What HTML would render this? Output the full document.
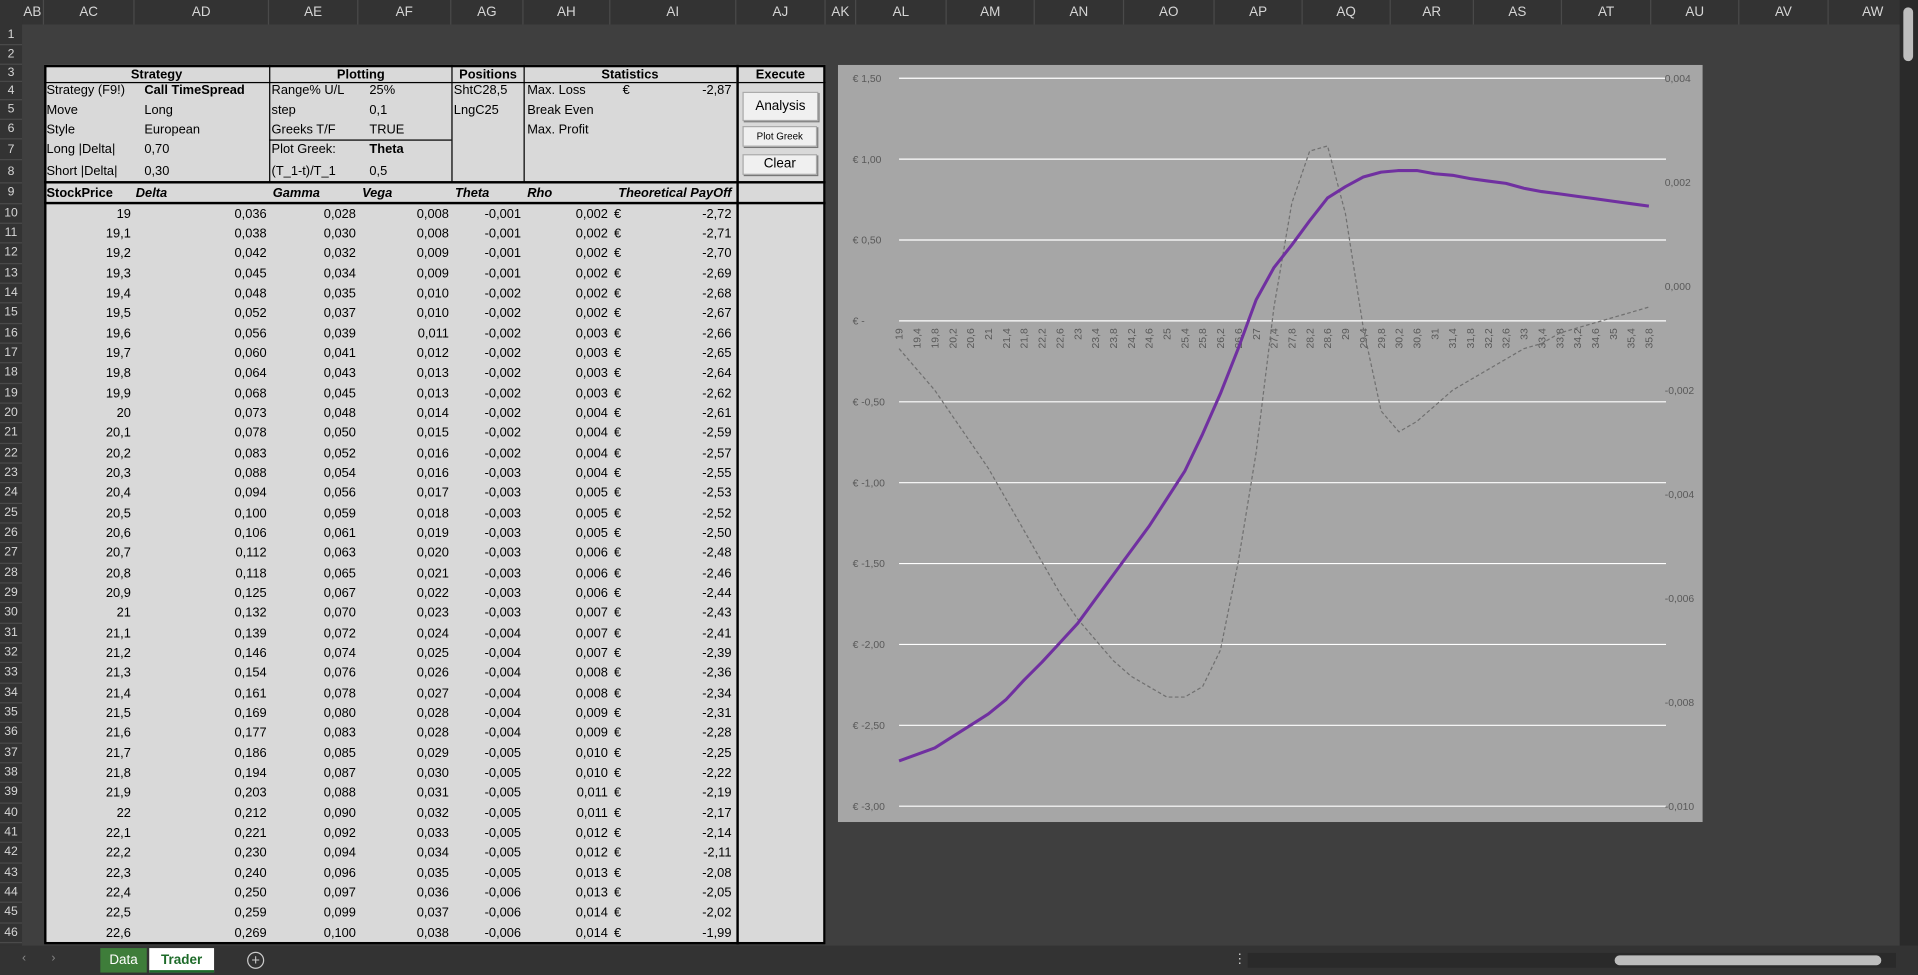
<!DOCTYPE html>
<html><head><meta charset="utf-8">
<style>
html,body{margin:0;padding:0;background:#3c3c3c;overflow:hidden;width:1918px;height:975px}
#root{position:absolute;left:0;top:0;width:1568px;height:797px;transform:scale(1.22321,1.22334);transform-origin:0 0;font-family:"Liberation Sans",sans-serif;background:#3f3f3f}
.abs{position:absolute}
.colhdr{position:absolute;top:0;height:20px;line-height:20px;text-align:center;color:#d6d6d6;font-size:11px;border-right:1px solid #4a4a4a;box-sizing:border-box}
.rowhdr{position:absolute;left:0;width:18px;text-align:center;color:#d6d6d6;font-size:10px;border-bottom:1px solid #4a4a4a;box-sizing:border-box}
.t{position:absolute;font-size:10.5px;color:#000;white-space:nowrap}
.b{font-weight:bold}
.bi{font-weight:bold;font-style:italic}
.btn{position:absolute;background:#f0f0f0;border:1px solid #aaa;box-shadow:1px 1px 0 #777;text-align:center;color:#000;font-size:11px;box-sizing:border-box}
</style></head><body>
<div id="root">
  <div class="abs" style="left:0;top:0;width:1568px;height:20px;background:#333"></div>
  <div class="abs" style="left:0;top:0;width:18px;height:797px;background:#333"></div>
  <div id="cols"></div><div id="rows"></div>

  <div class="abs" style="left:36px;top:53px;width:639px;height:719px;background:#d9d9d9;border:2px solid #000;box-sizing:border-box"></div>
  <div id="table"></div>

  <div class="btn" style="left:607px;top:75px;width:62px;height:24px;line-height:22px">Analysis</div>
  <div class="btn" style="left:607px;top:103px;width:61px;height:17px;line-height:15px;font-size:8px">Plot Greek</div>
  <div class="btn" style="left:607px;top:126px;width:61px;height:17px;line-height:15px">Clear</div>

  <svg id="chart" class="abs" style="left:685px;top:53px" width="707" height="619"></svg>

  <div class="abs" style="left:0;top:773px;width:1568px;height:24px;background:#333">
    <div class="abs" style="left:18px;top:5px;color:#888;font-size:10px">‹</div>
    <div class="abs" style="left:42px;top:5px;color:#888;font-size:10px">›</div>
    <div class="abs" style="left:82px;top:2px;width:38px;height:20px;background:#3e7d3a;color:#fff;font-size:11px;text-align:center;line-height:20px">Data</div>
    <div class="abs" style="left:122px;top:2px;width:53px;height:20px;background:#fff;color:#1e6b2a;font-weight:bold;font-size:11px;text-align:center;line-height:20px;border-bottom:2px solid #1e6b2a;box-sizing:border-box">Trader</div>
    <div class="abs" style="left:202px;top:5px;width:12px;height:12px;border:1px solid #ccc;border-radius:50%;color:#ccc;font-size:12px;line-height:12px;text-align:center">+</div>
    <div class="abs" style="left:1008px;top:4px;color:#ccc;font-size:11px">⋮</div>
    <div class="abs" style="left:1020px;top:6px;width:530px;height:12px;background:#2a2a2a">
      <div class="abs" style="left:300px;top:2px;width:218px;height:8px;background:#bdbdbd;border-radius:4px"></div>
    </div>
  </div>
  <div class="abs" style="left:1553px;top:0;width:15px;height:773px;background:#2a2a2a">
    <div class="abs" style="left:3px;top:6px;width:8px;height:44px;background:#bdbdbd;border-radius:4px"></div>
  </div>
</div>
<script>
const colNames=["AB","AC","AD","AE","AF","AG","AH","AI","AJ","AK","AL","AM","AN","AO","AP","AQ","AR","AS","AT","AU","AV","AW"];
const colEdges=[18,36,110,220,293,369,428,499,602,675,700,774,846,919,993,1065,1137,1205,1277,1350,1422,1495,1568];
const prices=["19","19,1","19,2","19,3","19,4","19,5","19,6","19,7","19,8","19,9","20","20,1","20,2","20,3","20,4","20,5","20,6","20,7","20,8","20,9","21","21,1","21,2","21,3","21,4","21,5","21,6","21,7","21,8","21,9","22","22,1","22,2","22,3","22,4","22,5","22,6"];
const deltas=["0,036","0,038","0,042","0,045","0,048","0,052","0,056","0,060","0,064","0,068","0,073","0,078","0,083","0,088","0,094","0,100","0,106","0,112","0,118","0,125","0,132","0,139","0,146","0,154","0,161","0,169","0,177","0,186","0,194","0,203","0,212","0,221","0,230","0,240","0,250","0,259","0,269"];
const gammas=["0,028","0,030","0,032","0,034","0,035","0,037","0,039","0,041","0,043","0,045","0,048","0,050","0,052","0,054","0,056","0,059","0,061","0,063","0,065","0,067","0,070","0,072","0,074","0,076","0,078","0,080","0,083","0,085","0,087","0,088","0,090","0,092","0,094","0,096","0,097","0,099","0,100"];
const vegas=["0,008","0,008","0,009","0,009","0,010","0,010","0,011","0,012","0,013","0,013","0,014","0,015","0,016","0,016","0,017","0,018","0,019","0,020","0,021","0,022","0,023","0,024","0,025","0,026","0,027","0,028","0,028","0,029","0,030","0,031","0,032","0,033","0,034","0,035","0,036","0,037","0,038"];
const thetas=["-0,001","-0,001","-0,001","-0,001","-0,002","-0,002","-0,002","-0,002","-0,002","-0,002","-0,002","-0,002","-0,002","-0,003","-0,003","-0,003","-0,003","-0,003","-0,003","-0,003","-0,003","-0,004","-0,004","-0,004","-0,004","-0,004","-0,004","-0,005","-0,005","-0,005","-0,005","-0,005","-0,005","-0,005","-0,006","-0,006","-0,006"];
const rhos=["0,002","0,002","0,002","0,002","0,002","0,002","0,003","0,003","0,003","0,003","0,004","0,004","0,004","0,004","0,005","0,005","0,005","0,006","0,006","0,006","0,007","0,007","0,007","0,008","0,008","0,009","0,009","0,010","0,010","0,011","0,011","0,012","0,012","0,013","0,013","0,014","0,014"];
const payoffs=["-2,72","-2,71","-2,70","-2,69","-2,68","-2,67","-2,66","-2,65","-2,64","-2,62","-2,61","-2,59","-2,57","-2,55","-2,53","-2,52","-2,50","-2,48","-2,46","-2,44","-2,43","-2,41","-2,39","-2,36","-2,34","-2,31","-2,28","-2,25","-2,22","-2,19","-2,17","-2,14","-2,11","-2,08","-2,05","-2,02","-1,99"];

// chart data
const chartCategories=["19","19,4","19,8","20,2","20,6","21","21,4","21,8","22,2","22,6","23","23,4","23,8","24,2","24,6","25","25,4","25,8","26,2","26,6","27","27,4","27,8","28,2","28,6","29","29,4","29,8","30,2","30,6","31","31,4","31,8","32,2","32,6","33","33,4","33,8","34,2","34,6","35","35,4","35,8"];
const payoffSeries=[-2.72,-2.68,-2.64,-2.57,-2.50,-2.43,-2.34,-2.22,-2.11,-1.99,-1.87,-1.72,-1.57,-1.42,-1.27,-1.10,-0.93,-0.70,-0.45,-0.17,0.13,0.33,0.47,0.62,0.76,0.83,0.89,0.92,0.93,0.93,0.91,0.90,0.88,0.865,0.85,0.82,0.80,0.785,0.77,0.755,0.74,0.725,0.71];
const thetaSeries=[-0.0012,-0.0016,-0.0020,-0.0025,-0.0030,-0.0035,-0.0041,-0.0047,-0.0053,-0.0059,-0.0064,-0.0068,-0.0072,-0.0075,-0.0077,-0.0079,-0.0079,-0.0077,-0.0070,-0.0053,-0.0032,-0.0004,0.0016,0.0026,0.0027,0.0014,-0.0008,-0.0024,-0.0028,-0.0026,-0.0023,-0.0020,-0.0018,-0.0016,-0.0014,-0.0012,-0.0011,-0.0009,-0.0008,-0.0007,-0.0006,-0.0005,-0.0004];
const leftTicks=[1.5,1.0,0.5,0,-0.5,-1.0,-1.5,-2.0,-2.5,-3.0];
const leftTickLabels=["€ 1,50","€ 1,00","€ 0,50","€ -","€ -0,50","€ -1,00","€ -1,50","€ -2,00","€ -2,50","€ -3,00"];
const rightTicks=[0.004,0.002,0,-0.002,-0.004,-0.006,-0.008,-0.010];
const rightTickLabels=["0,004","0,002","0,000","-0,002","-0,004","-0,006","-0,008","-0,010"];

function mk(tag,parent,css,text){const e=document.createElement(tag);if(css)e.style.cssText=css;if(text!==undefined)e.textContent=text;parent.appendChild(e);return e;}

const colsEl=document.getElementById('cols');
colNames.forEach((n,i)=>{
  const e=mk('div',colsEl,`left:${colEdges[i]}px;width:${colEdges[i+1]-colEdges[i]}px`,n);
  e.className='colhdr';
  
  
});
const rowTopArr=[0,21,37,53,67,82,98,114,131,150];
function rowY(n){return n<=9?rowTopArr[n]:166.7+(n-10)*16.33;}
function rowH(n){return (n<=8?rowY(n+1):rowY(n)+16.33)-rowY(n);}
const rowsEl=document.getElementById('rows');
for(let n=1;n<=46;n++){
  const h=n===9?16.7:rowH(n);
  const e=mk('div',rowsEl,`top:${rowY(n)}px;height:${h}px;line-height:${h}px`,String(n));
  e.className='rowhdr';
  
  
}
const tb=document.getElementById('table');
function txt(s,x,row,cls,align,name){
  const h=row===9?16.7:rowH(row);
  const yoff=row===3?1:0;
  const css=align==='r'?`right:${1568-x}px;`:align==='c'?`left:${x-100}px;width:200px;text-align:center;`:`left:${x}px;`;
  const e=mk('div',tb,css+`top:${rowY(row)+yoff}px;height:${h}px;line-height:${h}px`,s);
  e.className='t '+(cls||'');
  
  
  return e;
}
function line(x,y,w,h,name){const e=mk('div',tb,`position:absolute;left:${x}px;top:${y}px;width:${w}px;height:${h}px;background:#000`);
  
  }
line(36,67,566,1,'header-divider');line(602,67,73,1,'execute-header-divider');
line(220,53,1,97,'strategy-plotting-divider');line(369,53,1,97,'plotting-positions-divider');
line(428,53,1,97,'positions-statistics-divider');line(602,53,2,719,'execute-divider');
line(220,114,149,1,'plotting-subdivider');
line(36,148,639,2,'greeks-top-border');line(36,165,639,2,'greeks-header-border');
txt('Strategy',128,3,'b','c','strategy-header');txt('Plotting',295,3,'b','c','plotting-header');
txt('Positions',399,3,'b','c','positions-header');txt('Statistics',515,3,'b','c','statistics-header');
txt('Execute',638,3,'b','c','execute-header');
const params=[['Strategy (F9!)','Call TimeSpread',true],['Move','Long'],['Style','European'],['Long |Delta|','0,70'],['Short |Delta|','0,30']];
params.forEach((p,i)=>{txt(p[0],38,4+i,'','l','param-label');txt(p[1],118,4+i,p[2]?'b':'','l','param-value');});
const plots=[['Range% U/L','25%'],['step','0,1'],['Greeks T/F','TRUE'],['Plot Greek:','Theta',true],['(T_1-t)/T_1','0,5']];
plots.forEach((p,i)=>{txt(p[0],222,4+i,'','l','plot-label');txt(p[1],302,4+i,p[2]?'b':'','l','plot-value');});
txt('ShtC28,5',371,4,'','l','position-short');txt('LngC25',371,5,'','l','position-long');
txt('Max. Loss',431,4,'','l','max-loss-label');txt('€',509,4,'','l','max-loss-currency');txt('-2,87',598,4,'','r','max-loss-value');
txt('Break Even',431,5,'','l','break-even-label');txt('Max. Profit',431,6,'','l','max-profit-label');
txt('StockPrice',38,9,'b','l','stockprice-header');txt('Delta',111,9,'bi','l','delta-header');
txt('Gamma',223,9,'bi','l','gamma-header');txt('Vega',296,9,'bi','l','vega-header');
txt('Theta',372,9,'bi','l','theta-header');txt('Rho',431,9,'bi','l','rho-header');
txt('Theoretical PayOff',598,9,'bi','r','payoff-header');
prices.forEach((p,i)=>{const r=10+i;
  txt(p,107,r,'','r','stock-price-cell');txt(deltas[i],218,r,'','r','delta-cell');
  txt(gammas[i],291,r,'','r','gamma-cell');txt(vegas[i],367,r,'','r','vega-cell');
  txt(thetas[i],426,r,'','r','theta-cell');txt(rhos[i],497,r,'','r','rho-cell');
  txt('€',502,r,'','l','payoff-currency');txt(payoffs[i],598,r,'','r','payoff-cell');
});

const svg=document.getElementById('chart');const NS='http://www.w3.org/2000/svg';
function s(tag,attrs,text){const e=document.createElementNS(NS,tag);for(const k in attrs)e.setAttribute(k,attrs[k]);if(text!==undefined)e.textContent=text;svg.appendChild(e);return e;}
const bg=s('rect',{x:0,y:0,width:707,height:619,fill:'#a6a6a6'});


const X0=50,X1=663,YT=11,YB=606;
const yL=v=>YT+(1.5-v)/4.5*(YB-YT);
const yR=v=>YT+(0.004-v)/0.014*(YB-YT);
const xC=i=>X0+i*(X1-X0)/(chartCategories.length-1);
leftTicks.forEach((v,i)=>{
  const g=s('line',{x1:X0,x2:X1+14,y1:yL(v),y2:yL(v),stroke:'#fff','stroke-width':1});
  
  
  const t=s('text',{x:12,y:yL(v)+3,'font-size':8.5,fill:'#595959','font-family':'Liberation Sans'},leftTickLabels[i]);
  
  
});
rightTicks.forEach((v,i)=>{
  const t=s('text',{x:676,y:yR(v)+3,'font-size':8.5,fill:'#595959','font-family':'Liberation Sans'},rightTickLabels[i]);
  
  
});
chartCategories.forEach((c,i)=>{
  const x=xC(i),y=yL(0)+6;
  const t=s('text',{x:x+3,y:y,'font-size':8.5,fill:'#595959','font-family':'Liberation Sans','text-anchor':'end',transform:`rotate(-90 ${x+3} ${y})`},c);
  
  
});
const thetaPath=s('path',{d:thetaSeries.map((v,i)=>(i?'L':'M')+xC(i).toFixed(1)+','+yR(v).toFixed(1)).join(''),fill:'none',stroke:'#707070','stroke-width':1,'stroke-dasharray':'3,2','stroke-linejoin':'round'});


const payPath=s('path',{d:payoffSeries.map((v,i)=>(i?'L':'M')+xC(i).toFixed(1)+','+yL(v).toFixed(1)).join(''),fill:'none',stroke:'#7030a0','stroke-width':2.5,'stroke-linejoin':'round'});


</script>
</body></html>
